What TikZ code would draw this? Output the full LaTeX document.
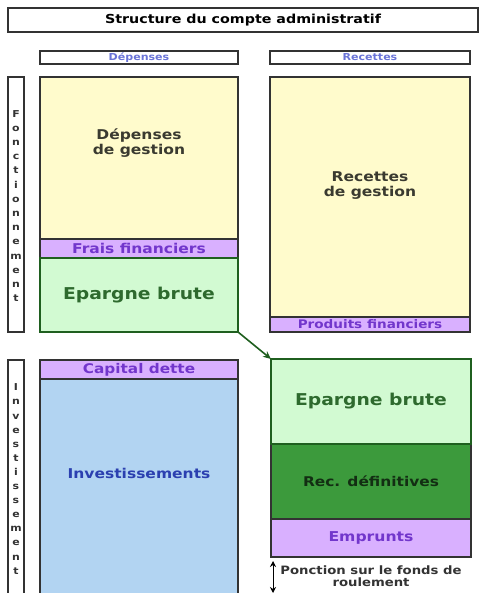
\documentclass[tikz,border=0pt]{standalone}
\usepackage{fontspec}
\newfontfamily\vb[FakeStretch=1.15]{DejaVu Sans}
\usetikzlibrary{arrows.meta}
\definecolor{boxline}{HTML}{333333}
\definecolor{yel}{HTML}{FFFBCC}
\definecolor{pur}{HTML}{D9B0FF}
\definecolor{purtxt}{HTML}{7236CC}
\definecolor{grl}{HTML}{D2FAD2}
\definecolor{grdark}{HTML}{1F5F1F}
\definecolor{grtxt}{HTML}{2E6A2E}
\definecolor{grmid}{HTML}{3C9A3C}
\definecolor{rectxt}{HTML}{132E13}
\definecolor{blu}{HTML}{B2D4F2}
\definecolor{blutxt}{HTML}{2B40B0}
\definecolor{hdtxt}{HTML}{6A74D8}
\definecolor{gestxt}{HTML}{3A3A30}
\newcommand\fz[2]{\vb\bfseries\fontsize{#1}{#2}\selectfont}
\begin{document}
\begin{tikzpicture}[x=1pt,y=-1pt,
  box/.style={draw=boxline, line width=1.3pt, inner sep=0pt, outer sep=0pt, anchor=north west},
  ebox/.style={draw=grdark, line width=2.2pt, fill=grl, inner sep=0pt, outer sep=0pt, anchor=north west},
  lbl/.style={inner sep=0pt, align=center},
  vbar/.style={box, fill=white, minimum width=16pt}]
\useasboundingbox (0,0) rectangle (483,593);
\fill[white] (0,0) rectangle (483,593);
% title and headers
\node[box, minimum width=470pt, minimum height=24pt] (title) at (8,8) {};
\node[lbl, font=\fz{12.4}{14}] (titletxt) at (title.center) {Structure du compte administratif};
\node[box, minimum width=198pt, minimum height=13pt] (hdep) at (40,51) {};
\node[lbl, font=\fz{9.6}{11}, text=hdtxt] (hdeptxt) at (hdep.center) {Dépenses};
\node[box, minimum width=200pt, minimum height=13pt] (hrec) at (270,51) {};
\node[lbl, font=\fz{9.6}{11}, text=hdtxt] (hrectxt) at (hrec.center) {Recettes};
% vertical bars
\node[vbar, minimum height=255pt] (fbar) at (8,77) {};
\node[lbl, font=\fz{9.5}{14.2}, text=boxline] (ftxt) at (16,206) {F\\o\\n\\c\\t\\i\\o\\n\\n\\e\\m\\e\\n\\t};
\node[vbar, minimum height=245pt] (ibar) at (8,360) {};
\node[lbl, font=\fz{9.5}{14.1}, text=boxline] (itxt) at (16,479) {I\\n\\v\\e\\s\\t\\i\\s\\s\\e\\m\\e\\n\\t};
% left column
\node[box, fill=yel, minimum width=198pt, minimum height=162pt] (dg) at (40,77) {};
\node[lbl, font=\fz{13.5}{14.5}, text=gestxt] (dgtxt) at (139,143) {Dépenses\\de gestion};
\node[box, fill=pur, minimum width=198pt, minimum height=19pt] (ff) at (40,239) {};
\node[lbl, font=\fz{13.5}{15}, text=purtxt] (fftxt) at (ff.center) {Frais financiers};
\node[ebox, minimum width=198pt, minimum height=74pt] (ebl) at (40,258) {};
\node[lbl, font=\fz{16.3}{18}, text=grtxt] (ebltxt) at (ebl.center) {Epargne brute};
\node[box, fill=blu, minimum width=198pt, minimum height=230pt] (inv) at (40,379) {};
\node[lbl, font=\fz{13.5}{15}, text=blutxt] (invtxt) at (139,473) {Investissements};
\node[box, fill=pur, minimum width=198pt, minimum height=19pt] (cd) at (40,360) {};
\node[lbl, font=\fz{13.3}{15}, text=purtxt] (cdtxt) at (cd.center) {Capital dette};
% right column
\node[box, fill=yel, minimum width=200pt, minimum height=240pt] (rg) at (270,77) {};
\node[lbl, font=\fz{13.5}{15}, text=gestxt] (rgtxt) at (370,186) {Recettes\\de gestion};
\node[box, fill=pur, minimum width=200pt, minimum height=15pt] (pf) at (270,317) {};
\node[lbl, font=\fz{11.8}{13}, text=purtxt] (pftxt) at (pf.center) {Produits financiers};
\node[box, fill=grmid, minimum width=200pt, minimum height=75pt] (rd) at (271,444) {};
\node[lbl, font=\fz{13.4}{15}, text=rectxt] (rdtxt) at (rd.center) {Rec. définitives};
\node[box, fill=pur, minimum width=200pt, minimum height=38pt] (em) at (271,519) {};
\node[lbl, font=\fz{13.6}{15}, text=purtxt] (emtxt) at (em.center) {Emprunts};
\node[ebox, minimum width=200pt, minimum height=85pt] (ebr) at (271,359) {};
\node[lbl, font=\fz{16.3}{18}, text=grtxt] (ebrtxt) at (ebr.center) {Epargne brute};
% arrow between the two Epargne brute boxes
\draw[grdark, line width=1.6pt, -{Stealth[length=8pt,width=7pt]}] (ebl.south east) -- (ebr.north west);
% ponction
\coordinate (pa) at (273,561);
\coordinate (pb) at (273,593);
\draw[black, line width=0.9pt, {Stealth[length=6pt,width=6pt]}-{Stealth[length=6pt,width=6pt]}] (pa) -- (pb);
\node[lbl, font=\fz{11.5}{12}, text=boxline] (ptxt) at (371,576) {Ponction sur le fonds de\\roulement};
\end{tikzpicture}
\end{document}
